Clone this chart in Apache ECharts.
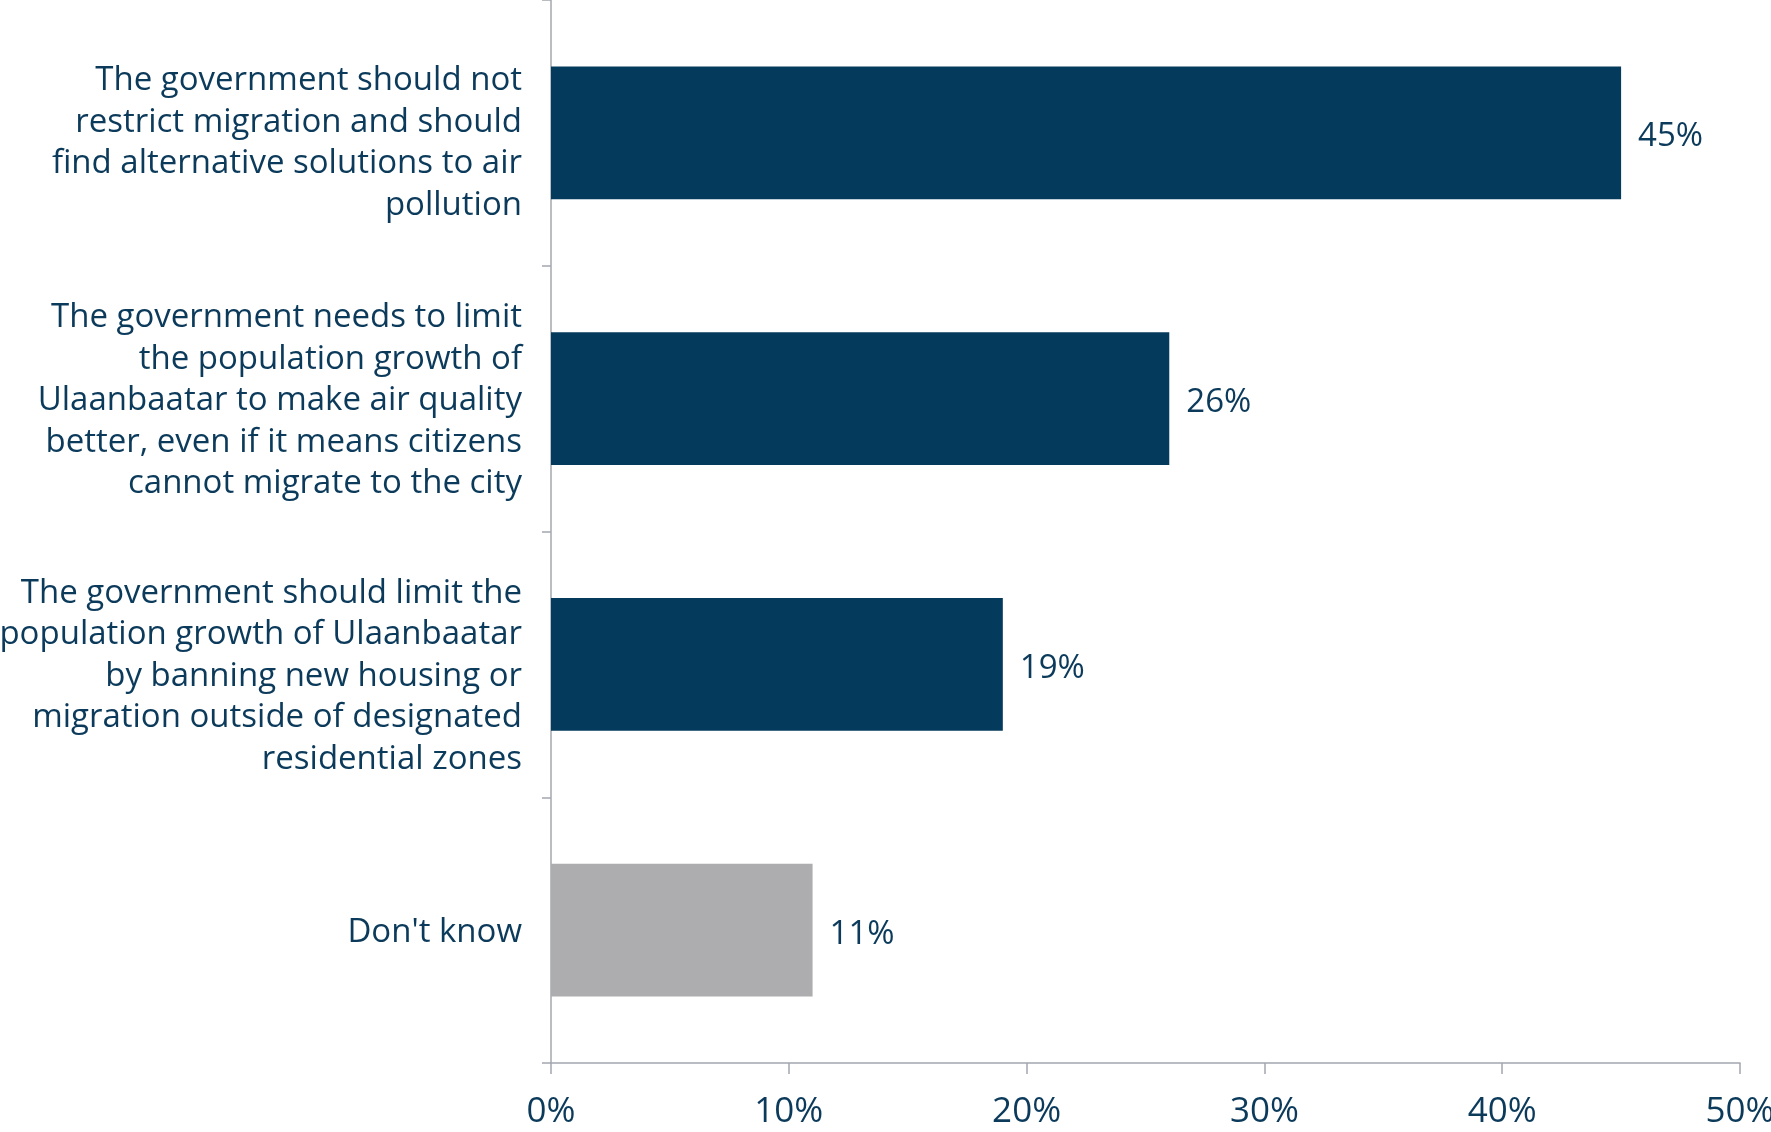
<!DOCTYPE html>
<html>
<head>
<meta charset="utf-8">
<script src="https://cdn.jsdelivr.net/npm/echarts@6/dist/echarts.min.js"></script>
<style>
html,body{margin:0;padding:0;background:#fff;}
#c{width:1771px;height:1132px;}
</style>
</head>
<body>
<div id="c"></div>
<script>
const categories = [
  "The government should not\nrestrict migration and should\nfind alternative solutions to air\npollution",
  "The government needs to limit\nthe population growth of\nUlaanbaatar to make air quality\nbetter, even if it means citizens\ncannot migrate to the city",
  "The government should limit the\npopulation growth of Ulaanbaatar\nby banning new housing or\nmigration outside of designated\nresidential zones",
  "Don't know"
];
const values = [45, 26, 19, 11];
const barColors = ["#043A5B", "#043A5B", "#043A5B", "#ADADAF"];
const xTicks = [0, 10, 20, 30, 40, 50];

const textColor = "#0B3A5B";
const axisColor = "#A3A7AE";
const numFont = "'Open Sans', sans-serif";
const catFont = "'Open Sans', sans-serif";
// downward nudge (px) of each category label block, to match the reference layout
const labelNudge = [10, 2, 12, 2];

const rich = {};
labelNudge.forEach((n, i) => {
  rich['g' + i] = {fontSize: 1, lineHeight: n * 2, fontFamily: catFont};
});

const chart = echarts.init(document.getElementById('c'), null, {renderer: 'canvas'});
chart.setOption({
  animation: false,
  grid: {left: 551, right: 31, top: 0, bottom: 69, containLabel: false, outerBoundsMode: 'none'},
  xAxis: {
    type: 'value',
    min: xTicks[0],
    max: xTicks[xTicks.length - 1],
    interval: 10,
    splitLine: {show: false},
    axisLine: {show: true, lineStyle: {color: axisColor, width: 1.5}},
    axisTick: {show: true, length: 11, lineStyle: {color: axisColor, width: 1.5}},
    axisLabel: {
      margin: 32,
      color: textColor,
      fontFamily: numFont,
      fontSize: 35,
      formatter: v => v + '%'
    }
  },
  yAxis: {
    type: 'category',
    inverse: true,
    data: categories,
    axisLine: {show: true, lineStyle: {color: axisColor, width: 1.5}},
    axisTick: {show: true, length: 9, alignWithLabel: false, lineStyle: {color: axisColor, width: 1.5}},
    axisLabel: {
      margin: 29,
      color: textColor,
      fontFamily: catFont,
      fontSize: 33,
      lineHeight: 41.5,
      align: 'right',
      rich: rich,
      formatter: (v, i) => '{g' + i + '| }\n' + v
    }
  },
  series: [{
    type: 'bar',
    barWidth: '50%',
    data: values.map((v, i) => ({value: v, itemStyle: {color: barColors[i]}})),
    label: {
      show: true,
      position: 'right',
      distance: 17,
      offset: [0, 4],
      color: textColor,
      fontFamily: numFont,
      fontSize: 33,
      formatter: p => p.value + '%'
    }
  }]
});
</script>
</body>
</html>
